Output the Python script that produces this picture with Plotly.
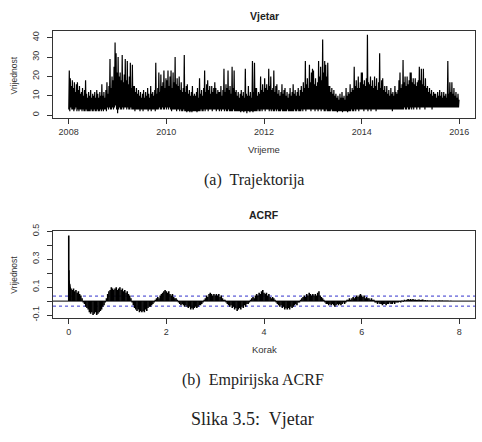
import plotly.graph_objects as go

# ---------------- data: wind series, weekly maxima / minima (4 "weeks" per month) ----------------
years = [2008, 2009, 2010, 2011, 2012, 2013, 2014, 2015]

hi_2008 = [23, 19, 15, 18, 14, 17, 12, 16, 17, 13, 15, 11, 12, 14, 10, 13, 18, 11, 9, 12, 10, 13, 9, 11,
           10, 12, 9, 13, 11, 9, 12, 10, 16, 10, 12, 9, 13, 17, 11, 15, 29, 14, 20, 18, 25, 37.5, 32, 22]
hi_2009 = [30, 20, 22, 18, 31, 17, 21, 29, 18, 28, 16, 20, 27, 14, 26, 15, 15, 12, 14, 11, 13, 10, 12, 9,
           11, 13, 9, 12, 10, 14, 11, 9, 15, 11, 12, 10, 13, 27, 11, 14, 22, 12, 21, 15, 17, 23, 14, 19]
hi_2010 = [18, 23, 15, 20, 23, 14, 22, 17, 30, 16, 19, 15, 20, 13, 17, 12, 14, 31, 12, 15, 16, 11, 13, 10,
           12, 15, 10, 11, 10, 12, 14, 9, 19, 11, 13, 10, 14, 23, 12, 16, 18, 13, 15, 11, 15, 12, 14, 17]
hi_2011 = [14, 11, 13, 12, 12, 15, 10, 13, 24, 12, 16, 14, 23, 13, 15, 11, 25, 14, 23, 12, 13, 10, 12, 9,
           11, 13, 10, 12, 9, 24, 11, 10, 15, 10, 12, 9, 28, 12, 27, 14, 14, 10, 12, 11, 20, 13, 16, 12]
hi_2012 = [19, 14, 16, 13, 24, 15, 20, 13, 14, 23, 12, 15, 16, 11, 13, 10, 12, 16, 11, 13, 14, 10, 12, 9,
           11, 14, 10, 12, 16, 11, 13, 10, 12, 14, 10, 13, 15, 12, 17, 14, 28, 16, 19, 14, 26, 17, 22, 24]
hi_2013 = [23, 16, 19, 15, 17, 28, 20, 25, 18, 39, 22, 28, 26, 20, 27, 15, 15, 12, 14, 11, 13, 10, 11, 9,
           10, 8, 11, 9, 12, 9, 10, 8, 14, 10, 12, 11, 16, 12, 14, 13, 25, 15, 18, 14, 20, 14, 17, 22]
hi_2014 = [22, 16, 18, 15, 19, 41.5, 17, 16, 20, 15, 18, 14, 20, 15, 19, 13, 17, 32, 14, 18, 19, 13, 15, 12,
           15, 11, 13, 10, 14, 11, 12, 10, 15, 12, 11, 13, 18, 22, 14, 16, 28.5, 17, 20, 15, 20, 16, 18, 22]
hi_2015 = [22, 17, 19, 16, 19, 15, 17, 18, 25, 18, 24, 16, 24, 15, 19, 14, 15, 12, 14, 11, 13, 10, 12, 11,
           11, 9, 12, 10, 13, 10, 12, 9, 12, 10, 11, 9, 28, 11, 17, 12, 17, 11, 14, 10, 12, 9, 11, 8]

lo_2008 = [3, 2, 4, 3, 3, 2, 3, 4, 2, 3, 2, 3, 3, 2, 3, 2, 2, 3, 2, 2, 2, 2, 3, 2,
           2, 3, 2, 2, 3, 2, 2, 3, 2, 3, 2, 3, 3, 2, 4, 3, 4, 3, 3, 4, 3, 4, 5, 3]
lo_2009 = [1, 3, 4, 3, 3, 4, 3, 4, 4, 3, 4, 3, 3, 4, 3, 3, 3, 2, 3, 3, 3, 3, 2, 3,
           3, 2, 3, 3, 3, 3, 2, 3, 3, 2, 3, 3, 3, 2, 3, 3, 3, 4, 3, 3, 4, 3, 3, 4]
lo_2010 = [3, 4, 3, 4, 3, 2, 3, 3, 3, 3, 2, 3, 3, 2, 3, 2, 2, 3, 2, 2, 1.5, 2, 2, 1.5,
           2, 1.5, 2, 2, 2, 2, 1.5, 2, 2, 2, 3, 2, 2, 3, 2, 3, 3, 2, 3, 3, 3, 2, 3, 3]
lo_2011 = [3, 2, 3, 3, 2, 3, 2, 3, 3, 2, 3, 2, 2, 3, 2, 2, 2, 2, 3, 2, 2, 2, 2, 2,
           2, 1.5, 2, 2, 1.5, 2, 2, 1, 2, 2, 1.5, 2, 2, 1.5, 2, 2, 2, 2, 3, 2, 2, 3, 2, 3]
lo_2012 = [3, 2, 3, 3, 3, 2, 3, 2, 3, 2, 2, 3, 2, 3, 2, 2, 2, 3, 2, 2, 2, 2, 2, 3,
           2, 2, 2, 2, 2, 2, 3, 2, 2, 3, 2, 2, 2, 3, 2, 3, 3, 2, 3, 3, 3, 3, 2, 3]
lo_2013 = [3, 3, 2, 3, 3, 2, 3, 3, 2, 3, 3, 2, 2, 3, 2, 2, 2, 2, 3, 2, 2, 2, 2, 2,
           1.5, 2, 2, 2, 2, 1.5, 2, 2, 2, 2, 1.5, 2, 2, 2, 3, 2, 2, 3, 2, 3, 3, 2, 3, 3]
lo_2014 = [3, 3, 2, 3, 3, 3, 2, 3, 3, 2, 3, 3, 3, 3, 2, 3, 3, 3, 3, 3, 3, 3, 3, 3,
           3, 3, 3, 3, 3, 3, 2, 3, 3, 3, 3, 3, 3, 3, 3, 3, 3, 3, 4, 3, 3, 4, 3, 3]
lo_2015 = [4, 3, 4, 3, 4, 4, 3, 4, 4, 3, 4, 4, 4, 4, 3, 4, 4, 4, 4, 4, 4, 3, 4, 4,
           4, 4, 4, 4, 4, 4, 4, 4, 4, 4, 4, 4, 4, 4, 4, 4, 4, 4, 4, 4, 4, 4, 4, 4]

hi_by_year = [hi_2008, hi_2009, hi_2010, hi_2011, hi_2012, hi_2013, hi_2014, hi_2015]
lo_by_year = [lo_2008, lo_2009, lo_2010, lo_2011, lo_2012, lo_2013, lo_2014, lo_2015]

# ---------------- data: empirical ACRF ----------------
acf_head_days = [1, 2, 3, 4, 5, 6, 7, 8, 9]
acf_head_vals = [0.47, 0.22, 0.15, 0.14, 0.13, 0.12, 0.11, 0.12, 0.10]
acf_step = 0.025  # years between tabulated lags below
acf_y0 = [0.10, 0.09, 0.08, 0.09, 0.07, 0.08, 0.06, 0.07, 0.05, 0.04,
          0.02, -0.01, -0.02, -0.04, -0.05, -0.06, -0.08, -0.09, -0.08, -0.10,
          -0.09, -0.08, -0.10, -0.09, -0.08, -0.07, -0.06, -0.04, -0.03, -0.01,
          0.02, 0.05, 0.07, 0.08, 0.10, 0.09, 0.08, 0.09, 0.10, 0.08]
acf_y1 = [0.09, 0.10, 0.08, 0.09, 0.07, 0.08, 0.06, 0.07, 0.05, 0.04,
          0.02, -0.01, -0.03, -0.05, -0.06, -0.07, -0.06, -0.08, -0.07, -0.08,
          -0.07, -0.08, -0.06, -0.07, -0.05, -0.04, -0.04, -0.03, -0.02, -0.01,
          0.01, 0.02, 0.03, 0.02, 0.04, 0.05, 0.06, 0.07, 0.08, 0.07]
acf_y2 = [0.06, 0.07, 0.05, 0.04, 0.05, 0.03, 0.02, 0.02, 0.01, -0.01,
          -0.02, -0.03, -0.02, -0.03, -0.04, -0.03, -0.04, -0.05, -0.04, -0.06,
          -0.05, -0.06, -0.05, -0.04, -0.05, -0.04, -0.03, -0.03, -0.02, -0.01,
          0.01, 0.02, 0.04, 0.03, 0.05, 0.06, 0.05, 0.04, 0.05, 0.04]
acf_y3 = [0.05, 0.04, 0.05, 0.03, 0.04, 0.02, 0.01, 0.01, -0.01, -0.02,
          -0.03, -0.04, -0.03, -0.05, -0.04, -0.06, -0.05, -0.07, -0.06, -0.05,
          -0.06, -0.04, -0.05, -0.03, -0.04, -0.02, -0.02, -0.01, 0.01, 0.02,
          0.03, 0.02, 0.04, 0.05, 0.04, 0.06, 0.05, 0.07, 0.08, 0.06]
acf_y4 = [0.05, 0.06, 0.04, 0.05, 0.03, 0.02, 0.03, 0.02, 0.01, -0.01,
          -0.02, -0.03, -0.04, -0.03, -0.05, -0.04, -0.06, -0.05, -0.06, -0.05,
          -0.06, -0.04, -0.05, -0.04, -0.03, -0.02, -0.03, -0.01, -0.01, 0.01,
          0.02, 0.03, 0.04, 0.03, 0.05, 0.04, 0.06, 0.05, 0.04, 0.05]
acf_y5 = [0.04, 0.05, 0.04, 0.06, 0.07, 0.04, 0.03, 0.02, 0.01, -0.01,
          -0.02, -0.02, -0.03, -0.02, -0.03, -0.02, -0.03, -0.04, -0.03, -0.02,
          -0.03, -0.02, -0.03, -0.02, -0.01, -0.02, -0.01, 0.01, 0.01, 0.02,
          0.01, 0.02, 0.03, 0.02, 0.03, 0.04, 0.03, 0.04, 0.05, 0.04]
acf_y6 = [0.03, 0.04, 0.02, 0.03, 0.02, 0.02, 0.01, 0.02, 0.01, 0.01,
          -0.01, -0.01, -0.02, -0.01, -0.02, -0.02, -0.03, -0.02, -0.02, -0.03,
          -0.02, -0.02, -0.01, -0.02, -0.02, -0.01, -0.02, -0.01, -0.01, -0.01,
          -0.005, -0.01, 0.005, -0.005, 0.01, 0.005, 0.01, 0.015, 0.01, 0.015]
acf_y7 = [0.01, 0.015, 0.01, 0.012, 0.008, 0.01, 0.012, 0.008, 0.01, 0.012,
          0.006, 0.008, 0.005, 0.006, 0.003, 0.004, 0.002, 0.004, 0.003, 0.004,
          0.005, 0.003, 0.004, 0.005, 0.003, 0.004, 0.002, 0.003, 0.002, 0.003,
          0.002, 0.001, 0.002, 0.001, 0.001, 0.001, 0.0, 0.001, 0.0, 0.0]
acf_blocks = [acf_y0, acf_y1, acf_y2, acf_y3, acf_y4, acf_y5, acf_y6, acf_y7]
acf_ci = 0.036

# ---------------- build traces ----------------
W, H = 482, 442

ts_x, ts_y = [], []
for yr, his, los in zip(years, hi_by_year, lo_by_year):
    n = len(his)
    for k in range(n):
        t0 = yr + (k + 0.15) / n
        t1 = yr + (k + 0.65) / n
        ts_x += [t0, t1]
        ts_y += [los[k], his[k]]

acf_lags = [d / 365.0 for d in acf_head_days]
acf_vals = list(acf_head_vals)
for b, block in enumerate(acf_blocks):
    for i, v in enumerate(block):
        acf_lags.append(b + (i + 1) * acf_step)
        acf_vals.append(v)

hx, hy = [], []
for l, v in zip(acf_lags, acf_vals):
    hx += [l, l, None]
    hy += [0, v, None]

fig = go.Figure()
fig.add_trace(go.Scatter(x=ts_x, y=ts_y, mode="lines",
                         line=dict(color="black", width=1.2),
                         xaxis="x", yaxis="y", hoverinfo="skip"))
# zero and confidence lines (full width)
for yv, col, dash in [(0, "black", "solid"), (acf_ci, "#3333cc", "dot"), (-acf_ci, "#3333cc", "dot")]:
    fig.add_trace(go.Scatter(x=[-0.32, 8.32], y=[yv, yv], mode="lines",
                             line=dict(color=col, width=1, dash=dash),
                             xaxis="x2", yaxis="y2", hoverinfo="skip"))
fig.add_trace(go.Scatter(x=hx, y=hy, mode="lines",
                         line=dict(color="black", width=1.6),
                         xaxis="x2", yaxis="y2", hoverinfo="skip"))

tickfont = dict(family="Liberation Sans, Arial, sans-serif", size=9, color="#333")
common = dict(showgrid=False, zeroline=False, showline=True, mirror=True,
              linecolor="#333", linewidth=1, ticks="outside", ticklen=5,
              tickcolor="#333", tickfont=tickfont)

top_dom = [1 - 114 / H, 1 - 25 / H]
bot_dom = [1 - 318.5 / H, 1 - 229 / H]
xdom = [53 / W, 475 / W]

fig.update_layout(
    width=W, height=H, margin=dict(l=0, r=0, t=0, b=0),
    paper_bgcolor="white", plot_bgcolor="white", showlegend=False,
    xaxis=dict(domain=xdom, range=[2007.68, 2016.32],
               tickvals=[2008, 2010, 2012, 2014, 2016], anchor="y", **common),
    yaxis=dict(domain=top_dom, range=[-1.66, 43.2],
               tickvals=[0, 10, 20, 30, 40], tickangle=-90, anchor="x",
               ticklabelstandoff=4, **common),
    xaxis2=dict(domain=xdom, range=[-0.32, 8.32],
                tickvals=[0, 2, 4, 6, 8], anchor="y2", **common),
    yaxis2=dict(domain=bot_dom, range=[-0.123, 0.503],
                tickvals=[-0.1, 0, 0.1, 0.2, 0.3, 0.4, 0.5],
                ticktext=["-0.1", "", "0.1", "", "0.3", "", "0.5"],
                tickangle=-90, anchor="x2", ticklabelstandoff=4, **common),
)

sans = "Liberation Sans, Arial, sans-serif"
serif = "Liberation Serif, Times New Roman, serif"


def ann(text, xpx, ypx, size, family, angle=0, color="#333"):
    fig.add_annotation(text=text, x=xpx / W, y=1 - ypx / H, xref="paper", yref="paper",
                       showarrow=False, textangle=angle, xanchor="center", yanchor="middle",
                       font=dict(family=family, size=size, color=color))


ann("<b>Vjetar</b>", 264, 9, 10.5, sans, color="#222")
ann("Vrijeme", 264, 146, 9.5, sans)
ann("Vrijednost", 14, 70, 8.5, sans, angle=-90)
ann("<b>ACRF</b>", 264, 213, 10.5, sans, color="#222")
ann("Korak", 264, 350, 9.5, sans)
ann("Vrijednost", 14, 274, 8.5, sans, angle=-90)
ann("(a)  Trajektorija", 253.5, 177, 16, serif, color="#222")
ann("(b)  Empirijska ACRF", 253, 382, 16, serif, color="#222")
ann("Slika 3.5:  Vjetar", 252.5, 422, 18, serif, color="#222")

fig.write_html("out.html")
